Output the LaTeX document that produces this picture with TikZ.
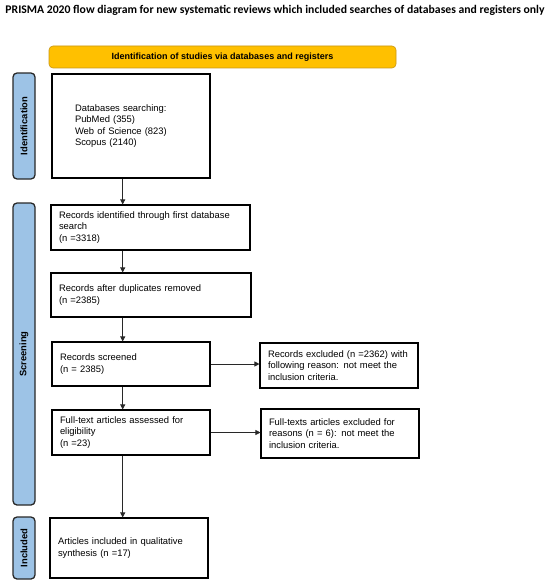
\documentclass[tikz,border=0pt]{standalone}
\usepackage{fontspec}
\setmainfont{Liberation Sans}
\newfontfamily\titlefont{Carlito}
\usetikzlibrary{arrows.meta,calc}
\definecolor{sideblue}{RGB}{157,195,230}
\definecolor{bandyellow}{RGB}{255,192,0}
\definecolor{bandedge}{RGB}{200,150,20}
\definecolor{linegray}{RGB}{40,40,40}
\tikzset{
  flowbox/.style={draw=black, line width=1.1pt, fill=white, align=left, inner xsep=8pt, inner ysep=0pt,
    font=\fontsize{9.4}{11.2}\selectfont, anchor=center},
  sidebox/.style={draw=linegray, line width=1.3pt, fill=sideblue, rounded corners=4pt,
    minimum width=22pt, inner sep=0pt, anchor=center},
  sidelabel/.style={rotate=90, font=\bfseries\fontsize{9.4}{11}\selectfont},
  flowarrow/.style={draw=linegray, line width=0.8pt, -{Triangle[length=5pt,width=5pt]}}
}
\begin{document}
\begin{tikzpicture}[x=1pt,y=-1pt]
\useasboundingbox (0,0) rectangle (550,586);
\node[font=\titlefont\bfseries\fontsize{11.7}{13}\selectfont] (title) at (275,10) {PRISMA 2020 flow diagram for new systematic reviews which included searches of databases and registers only};
\node[draw=bandedge, line width=0.6pt, fill=bandyellow, rounded corners=4pt, minimum width=347pt, minimum height=22pt, inner sep=0pt,
  font=\bfseries\fontsize{9}{10}\selectfont] (band) at (222.5,57) {Identification of studies via databases and registers};

\node[sidebox, minimum height=106pt] (sid) at (24,126) {};
\node[sidelabel] (sidt) at (sid.center) {Identification};
\node[sidebox, minimum height=302pt] (sscr) at (24,354) {};
\node[sidelabel] (sscrt) at (sscr.center) {Screening};
\node[sidebox, minimum height=62pt] (sinc) at (24,548) {};
\node[sidelabel] (sinct) at (sinc.center) {Included};

\node[flowbox, inner xsep=23pt, minimum width=158pt, minimum height=104pt, text width=112pt] (db) at (131,126)
  {Databases searching:\\PubMed (355)\\Web of Science (823)\\Scopus (2140)};
\node[flowbox, minimum width=199pt, minimum height=45pt, text width=183pt] (ri) at (150.5,227.5)
  {Records identified through first database\\search\\(n =3318)};
\node[flowbox, minimum width=200pt, minimum height=44pt, text width=184pt] (rd) at (151,295)
  {Records after duplicates removed\\(n =2385)};
\node[flowbox, minimum width=158pt, minimum height=44pt, text width=142pt] (rs) at (131,364)
  {Records screened\\(n = 2385)};
\node[flowbox, minimum width=158pt, minimum height=45pt, text width=142pt] (ft) at (131,432.5)
  {Full-text articles assessed for\\eligibility\\(n =23)};
\node[flowbox, minimum width=158pt, minimum height=45pt, text width=142pt] (ex1) at (339,365.5)
  {Records excluded (n =2362) with\\following reason: not meet the\\inclusion criteria.};
\node[flowbox, minimum width=158pt, minimum height=49pt, text width=142pt] (ex2) at (340,433.5)
  {Full-texts articles excluded for\\reasons (n = 6): not meet the\\inclusion criteria.};
\node[flowbox, minimum width=158pt, minimum height=60pt, text width=142pt] (ai) at (129,548)
  {Articles included in qualitative\\synthesis (n =17)};

\coordinate (ax) at (122.7,0);
\draw[flowarrow] (db.south -| ax) -- (ri.north -| ax);
\draw[flowarrow] (ri.south -| ax) -- (rd.north -| ax);
\draw[flowarrow] (rd.south -| ax) -- (rs.north -| ax);
\draw[flowarrow] (rs.south -| ax) -- (ft.north -| ax);
\draw[flowarrow] (ft.south -| ax) -- (ai.north -| ax);
\draw[flowarrow] (rs.east) -- (rs.east -| ex1.west);
\draw[flowarrow] (ft.east) -- (ft.east -| ex2.west);
\end{tikzpicture}
\end{document}
